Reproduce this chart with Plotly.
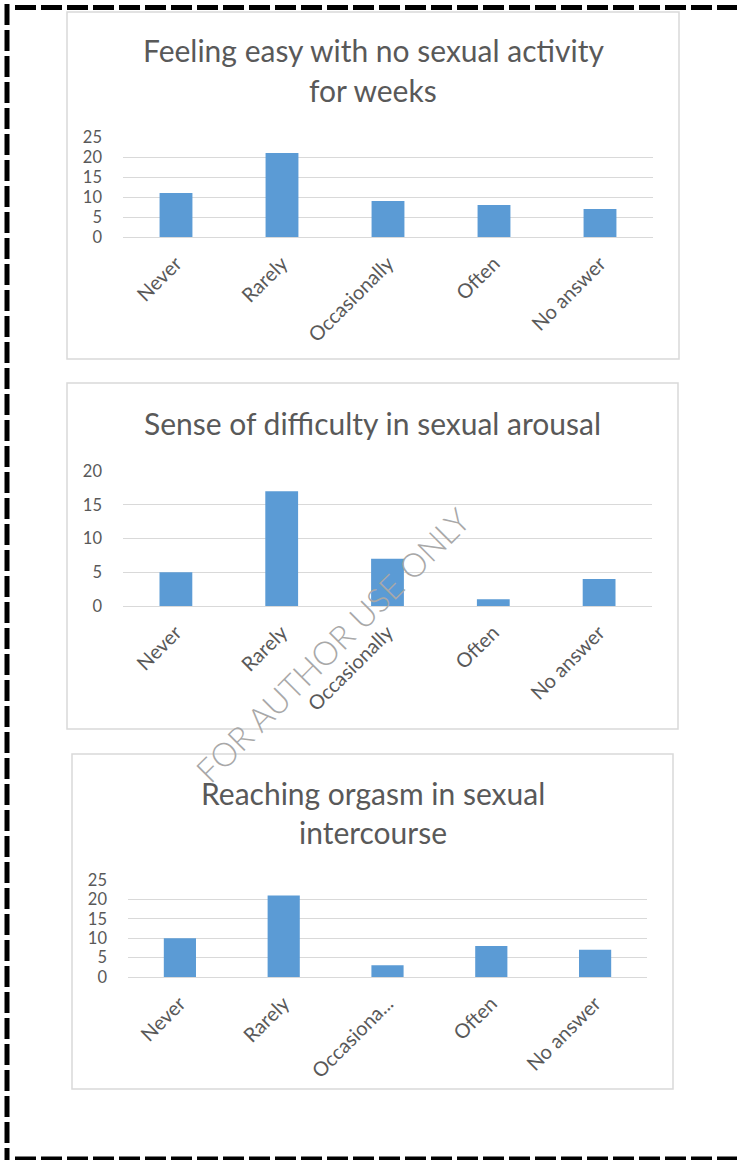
import plotly.graph_objects as go

# ---------------- data ----------------
categories = ["Never", "Rarely", "Occasionally", "Often", "No answer"]
tick_labels_1 = ["Never", "Rarely", "Occasionally", "Often", "No answer"]
tick_labels_2 = ["Never", "Rarely", "Occasionally", "Often", "No answer"]
tick_labels_3 = ["Never", "Rarely", "Occasiona...", "Often", "No answer"]
values_1 = [11, 21, 9, 8, 7]
values_2 = [5, 17, 7, 1, 4]
values_3 = [10, 21, 3, 8, 7]
title_1 = ["Feeling easy with no sexual activity", "for weeks"]
title_2 = ["Sense of difficulty in sexual arousal"]
title_3 = ["Reaching orgasm in sexual", "intercourse"]
y_max = [25, 20, 25]
watermark = "FOR AUTHOR USE ONLY"

# ---------------- layout helpers ----------------
W, H = 737, 1160
FONT = "Lato"
TXT = "#595959"
BAR = "#5B9BD5"
GRID = "#D9D9D9"


def px(x):
    return x / W


def py(y):
    return 1 - y / H


panels = [
    dict(vals=values_1, ticks=tick_labels_1, title=title_1, ymax=y_max[0],
         plot=(123, 653, 137, 237), box=(67, 679, 12, 359), title_y=[50, 90]),
    dict(vals=values_2, ticks=tick_labels_2, title=title_2, ymax=y_max[1],
         plot=(123, 652, 471, 606), box=(67, 678, 383, 729), title_y=[423]),
    dict(vals=values_3, ticks=tick_labels_3, title=title_3, ymax=y_max[2],
         plot=(128, 647, 880, 977), box=(72, 673, 754, 1089), title_y=[793, 832]),
]

fig = go.Figure()
shapes = []
annotations = []

for i, p in enumerate(panels, start=1):
    xa = "x" if i == 1 else f"x{i}"
    ya = "y" if i == 1 else f"y{i}"
    fig.add_trace(go.Bar(x=categories, y=p["vals"], xaxis=xa, yaxis=ya,
                         marker=dict(color=BAR, line=dict(width=0)),
                         width=0.31, showlegend=False, hoverinfo="x+y"))
    x0, x1, yt, yb = p["plot"]
    xkey = "xaxis" if i == 1 else f"xaxis{i}"
    ykey = "yaxis" if i == 1 else f"yaxis{i}"
    fig.update_layout({
        xkey: dict(domain=[px(x0), px(x1)], anchor=ya, type="category",
                   tickvals=categories, ticktext=p["ticks"], tickangle=-45,
                   showgrid=False, showline=False, ticks="", zeroline=False,
                   ticklabelstandoff=10, automargin=False,
                   tickfont=dict(family=FONT, size=20, color=TXT),
                   range=[-0.5, 4.5], fixedrange=True),
        ykey: dict(domain=[py(yb), py(yt)], anchor=xa, range=[0, p["ymax"]],
                   dtick=5, tick0=0, showgrid=True, gridcolor=GRID, gridwidth=1,
                   zeroline=True, zerolinecolor=GRID, zerolinewidth=1,
                   showline=False, ticks="", ticklabelstandoff=20, automargin=False,
                   tickfont=dict(family=FONT, size=16.5, color=TXT), fixedrange=True),
    })
    bx0, bx1, by0, by1 = p["box"]
    shapes.append(dict(type="rect", xref="paper", yref="paper",
                       x0=px(bx0), x1=px(bx1), y0=py(by1), y1=py(by0),
                       line=dict(color=GRID, width=1.5), fillcolor="rgba(0,0,0,0)",
                       layer="below"))
    cx = (bx0 + bx1) / 2
    for line, ty in zip(p["title"], p["title_y"]):
        annotations.append(dict(text=line, x=px(cx), y=py(ty), xref="paper", yref="paper",
                                xanchor="center", yanchor="middle", showarrow=False,
                                font=dict(family=FONT, size=30, color=TXT)))

# dashed page border (left, top, bottom)
dash = "21px,5px"
shapes.append(dict(type="line", xref="paper", yref="paper", x0=px(7), x1=px(7),
                   y0=py(4), y1=py(1160), line=dict(color="black", width=5, dash=dash)))
shapes.append(dict(type="line", xref="paper", yref="paper", x0=px(15), x1=px(737),
                   y0=py(7.5), y1=py(7.5), line=dict(color="black", width=5, dash=dash)))
shapes.append(dict(type="line", xref="paper", yref="paper", x0=px(15), x1=px(737),
                   y0=py(1158.5), y1=py(1158.5), line=dict(color="black", width=4, dash=dash)))

# watermark
annotations.append(dict(text=watermark, x=px(332), y=py(645), xref="paper", yref="paper",
                        xanchor="center", yanchor="middle", showarrow=False, textangle=-45,
                        font=dict(family="Lato", weight=300, size=33, color="#A8A8A8")))

fig.update_layout(width=W, height=H, margin=dict(l=0, r=0, t=0, b=0, autoexpand=False),
                  paper_bgcolor="white", plot_bgcolor="rgba(0,0,0,0)",
                  shapes=shapes, annotations=annotations, bargap=0.69)

fig.write_html("out.html", config={"displayModeBar": False},
               post_script="document.body.style.margin='0';"
                           "document.documentElement.style.overflow='hidden';")
